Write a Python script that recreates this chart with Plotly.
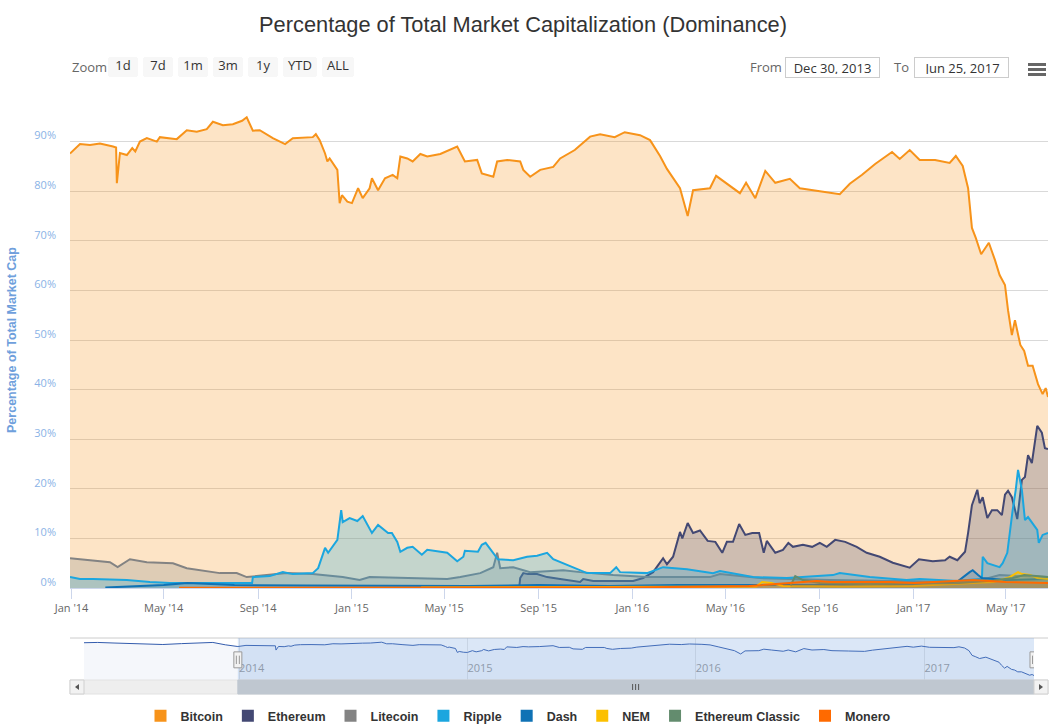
import plotly.graph_objects as go

# ---------------- data (percent of total market cap) ----------------
btc_dates = ['2013-12-30','2014-01-12','2014-01-25','2014-02-07','2014-02-24','2014-02-28','2014-03-01','2014-03-05',
             '2014-03-14','2014-03-21','2014-03-25','2014-03-31','2014-04-09','2014-04-22','2014-04-26','2014-05-18',
             '2014-05-31','2014-06-13','2014-06-26','2014-07-04','2014-07-17','2014-07-30','2014-08-11','2014-08-17',
             '2014-08-25','2014-09-03','2014-09-20','2014-10-06','2014-10-16','2014-11-11','2014-11-15','2014-11-20',
             '2014-11-27','2014-11-30','2014-12-03','2014-12-13','2014-12-16','2014-12-19','2014-12-26','2015-01-01',
             '2015-01-09','2015-01-15','2015-01-24','2015-01-27','2015-02-04','2015-02-13','2015-02-23','2015-03-01',
             '2015-03-05','2015-03-14','2015-03-21','2015-03-31','2015-04-09','2015-04-26','2015-05-18','2015-05-28',
             '2015-06-13','2015-06-19','2015-07-04','2015-07-09','2015-07-22','2015-08-08','2015-08-12','2015-08-21',
             '2015-09-03','2015-09-20','2015-09-29','2015-10-18','2015-11-07','2015-11-20','2015-12-09','2015-12-22',
             '2016-01-11','2016-01-24','2016-02-06','2016-02-15','2016-03-03','2016-03-13','2016-03-20','2016-04-11',
             '2016-04-19','2016-05-01','2016-05-20','2016-05-28','2016-06-09','2016-06-22','2016-07-05','2016-07-24',
             '2016-08-06','2016-09-01','2016-09-27','2016-10-10','2016-10-26','2016-11-12','2016-11-25','2016-12-04',
             '2016-12-14','2016-12-27','2017-01-09','2017-01-29','2017-02-17','2017-02-25','2017-03-06','2017-03-13',
             '2017-03-18','2017-03-23','2017-03-30','2017-04-09','2017-04-17','2017-04-23','2017-04-30','2017-05-04',
             '2017-05-09','2017-05-13','2017-05-20','2017-05-25','2017-05-30','2017-06-05','2017-06-12','2017-06-18',
             '2017-06-22','2017-06-25']
btc_values = [87.6, 89.5, 89.3, 89.6, 89.0, 88.8, 81.6, 87.7,
              87.3, 88.7, 88.0, 90.0, 90.7, 90.0, 90.9, 90.5,
              92.3, 92.0, 92.5, 94.0, 93.3, 93.5, 94.2, 94.9,
              92.2, 92.3, 90.7, 89.5, 90.7, 90.9, 91.5, 90.3,
              87.6, 86.0, 86.6, 84.3, 77.6, 79.2, 77.9, 77.6,
              80.6, 78.6, 80.6, 82.6, 80.2, 82.6, 83.3, 82.6,
              87.0, 86.6, 86.0, 87.5, 87.0, 87.5, 89.0, 86.0,
              86.3, 83.6, 82.9, 86.0, 86.3, 86.0, 84.3, 82.9,
              84.3, 84.9, 86.6, 88.3, 91.0, 91.5, 90.9, 91.9,
              91.3, 90.3, 87.1, 84.5, 80.6, 75.0, 80.2, 80.6,
              83.1, 81.7, 79.6, 81.7, 78.6, 84.1, 81.7, 82.5,
              80.6, 80.0, 79.4, 81.5, 83.3, 85.5, 86.9, 87.9,
              86.5, 88.3, 86.3, 86.3, 85.7, 87.1, 85.1, 80.6,
              72.6, 70.6, 67.3, 69.6, 66.1, 63.1, 61.1, 56.0,
              51.0, 54.0, 49.0, 47.8, 44.8, 44.8, 41.1, 39.1,
              40.3, 38.5]

# Bitcoin before the selected range (only shown in the navigator)
btc_2013_dates = ['2013-04-28','2013-05-20','2013-06-15','2013-07-10','2013-08-05','2013-09-01',
                  '2013-10-01','2013-11-01','2013-11-20','2013-12-10','2013-12-28']
btc_2013_values = [94.0, 94.5, 93.5, 92.5, 91.5, 91.0, 92.5, 93.5, 94.5, 90.5, 88.0]

eth_dates = ['2015-08-07','2015-08-08','2015-08-12','2015-08-18','2015-08-30','2015-09-12','2015-09-29','2015-10-25',
             '2015-10-29','2015-11-11','2015-12-07','2016-01-02','2016-01-15','2016-01-28','2016-02-10','2016-02-15',
             '2016-02-23','2016-03-03','2016-03-06','2016-03-13','2016-03-20','2016-03-29','2016-04-08','2016-04-18',
             '2016-04-27','2016-05-03','2016-05-11','2016-05-19','2016-05-27','2016-06-05','2016-06-14','2016-06-20',
             '2016-06-24','2016-07-05','2016-07-15','2016-07-22','2016-07-28','2016-08-10','2016-08-22','2016-09-01',
             '2016-09-10','2016-09-21','2016-10-04','2016-10-19','2016-11-01','2016-11-18','2016-12-05','2016-12-18',
             '2016-12-27','2017-01-08','2017-01-26','2017-02-11','2017-02-17','2017-02-27','2017-03-09','2017-03-13',
             '2017-03-18','2017-03-25','2017-03-28','2017-04-01','2017-04-07','2017-04-13','2017-04-20','2017-04-26',
             '2017-04-30','2017-05-04','2017-05-09','2017-05-16','2017-05-22','2017-05-26','2017-05-30','2017-06-04',
             '2017-06-11','2017-06-17','2017-06-21','2017-06-25']
eth_values = [0.5, 2.0, 3.0, 2.8, 2.8, 2.2, 1.8, 1.2,
              1.8, 1.4, 1.4, 1.4, 2.0, 3.2, 6.0, 4.8,
              6.3, 11.3, 10.0, 13.1, 11.1, 11.6, 9.5, 9.3,
              7.1, 9.3, 9.3, 12.9, 10.7, 11.1, 11.1, 7.1,
              9.5, 7.1, 7.7, 9.1, 8.3, 8.7, 8.3, 9.1,
              8.3, 9.7, 9.3, 8.3, 7.1, 6.3, 5.1, 4.6,
              4.1, 5.8, 5.4, 5.6, 6.3, 5.6, 7.3, 11.1,
              16.7, 19.8, 17.1, 18.3, 14.1, 15.7, 15.7, 14.7,
              18.8, 19.6, 18.3, 13.9, 21.8, 22.4, 26.8, 25.2,
              32.7, 31.3, 28.2, 28.0]

ltc_dates = ['2013-12-30','2014-01-21','2014-02-20','2014-03-02','2014-03-18','2014-04-09','2014-05-13','2014-05-31',
             '2014-06-26','2014-07-13','2014-08-04','2014-08-17','2014-09-12','2014-10-08','2014-11-11','2014-12-20',
             '2015-01-11','2015-01-24','2015-05-05','2015-05-22','2015-06-17','2015-07-04','2015-07-09','2015-07-13',
             '2015-07-30','2015-08-21','2015-10-03','2015-10-25','2015-12-07','2016-01-20','2016-04-11','2016-04-24',
             '2016-06-15','2016-09-14','2016-12-14','2017-03-02','2017-04-04','2017-04-23','2017-05-20','2017-06-25']
ltc_values = [6.0, 5.6, 5.2, 4.2, 5.8, 5.2, 5.0, 4.0,
              3.4, 3.0, 3.0, 2.2, 2.6, 3.0, 2.8, 2.2,
              1.6, 2.2, 1.8, 2.2, 3.0, 4.2, 7.1, 4.0,
              4.2, 3.2, 3.6, 3.2, 2.6, 2.2, 2.2, 2.8,
              2.0, 1.6, 1.4, 1.2, 1.8, 2.6, 2.4, 2.2]

xrp_dates = ['2013-12-30','2014-01-12','2014-01-29','2014-03-14','2014-04-13','2014-05-09','2014-06-08','2014-07-13',
             '2014-08-24','2014-08-25','2014-09-16','2014-10-03','2014-10-16','2014-11-11','2014-11-18','2014-11-27',
             '2014-12-01','2014-12-13','2014-12-18','2014-12-20','2014-12-29','2015-01-08','2015-01-15','2015-01-27',
             '2015-02-04','2015-02-17','2015-02-22','2015-03-01','2015-03-05','2015-03-14','2015-03-21','2015-04-02',
             '2015-04-09','2015-05-05','2015-05-18','2015-05-26','2015-05-28','2015-06-14','2015-06-19','2015-06-24',
             '2015-07-04','2015-07-10','2015-07-30','2015-08-17','2015-08-30','2015-09-12','2015-09-20','2015-10-03',
             '2015-10-16','2015-11-03','2015-12-03','2015-12-11','2015-12-16','2016-01-20','2016-02-10','2016-03-12',
             '2016-04-15','2016-04-24','2016-06-06','2016-07-20','2016-09-18','2016-09-27','2016-11-05','2016-12-23',
             '2017-01-09','2017-02-27','2017-03-12','2017-03-31','2017-04-01','2017-04-07','2017-04-23','2017-04-27',
             '2017-05-03','2017-05-09','2017-05-10','2017-05-14','2017-05-17','2017-05-22','2017-05-26','2017-05-30',
             '2017-06-04','2017-06-11','2017-06-13','2017-06-18','2017-06-25']
xrp_values = [2.2, 1.8, 1.8, 1.6, 1.2, 1.0, 1.0, 1.0,
              1.0, 2.2, 2.4, 3.2, 2.8, 3.0, 4.0, 8.1,
              7.1, 9.7, 15.7, 13.3, 14.1, 13.5, 14.5, 11.1,
              12.7, 11.1, 11.1, 9.3, 7.3, 8.1, 8.3, 6.7,
              7.7, 7.1, 5.4, 6.3, 7.5, 7.3, 8.7, 9.1,
              7.1, 5.8, 5.6, 6.3, 6.5, 7.1, 5.8, 5.0,
              4.2, 3.0, 3.0, 4.2, 3.2, 3.0, 4.2, 3.8,
              3.0, 3.4, 2.2, 2.0, 2.6, 3.0, 2.2, 1.6,
              1.8, 1.4, 1.6, 1.8, 6.3, 5.0, 4.2, 5.0,
              7.1, 15.1, 15.7, 19.8, 23.8, 19.8, 13.7, 14.3,
              13.1, 11.7, 9.1, 10.7, 11.1]

dash_dates = ['2014-02-14','2014-05-01','2014-06-01','2014-08-01','2014-11-01','2015-03-01','2015-06-01','2015-09-01',
              '2015-12-01','2016-03-01','2016-06-01','2016-09-01','2016-12-01','2017-02-20','2017-02-28','2017-03-15',
              '2017-03-19','2017-03-26','2017-03-31','2017-05-01','2017-06-25']
dash_values = [0.1, 0.6, 1.0, 0.6, 0.5, 0.4, 0.4, 0.6,
               0.4, 0.6, 0.6, 0.5, 0.6, 1.2, 1.4, 3.2,
               3.6, 2.6, 2.0, 1.6, 1.8]

nem_dates = ['2015-04-01','2016-06-10','2016-06-18','2016-06-30','2016-07-15','2016-10-01','2017-01-01','2017-03-01',
             '2017-04-15','2017-05-06','2017-05-17','2017-05-22','2017-06-02','2017-06-11','2017-06-25']
nem_values = [0.1, 0.3, 1.2, 1.0, 0.4, 0.3, 0.4, 0.8,
              1.2, 2.2, 3.2, 2.8, 2.6, 2.0, 1.8]

etc_dates = ['2016-07-25','2016-07-31','2016-08-10','2016-09-01','2016-11-01','2017-01-01','2017-03-01','2017-04-15',
             '2017-05-10','2017-05-25','2017-06-10','2017-06-25']
etc_values = [0.5, 2.4, 1.6, 1.0, 0.8, 0.9, 1.0, 1.5,
              2.0, 2.6, 2.4, 2.2]

xmr_dates = ['2014-05-21','2015-01-01','2016-01-01','2016-06-01','2016-08-28','2016-09-15','2016-12-01','2017-01-01',
             '2017-03-01','2017-03-20','2017-05-01','2017-06-25']
xmr_values = [0.05, 0.1, 0.1, 0.4, 1.4, 1.2, 1.2, 1.0,
              1.4, 1.6, 1.2, 1.0]

y_ticks = [0, 10, 20, 30, 40, 50, 60, 70, 80, 90, 100]
y_ticktext = ['0%', '10%', '20%', '30%', '40%', '50%', '60%', '70%', '80%', '90%', '']

range_start, range_end = '2013-12-30', '2017-06-25'
nav_start = '2013-04-28'

series = [
    ('Bitcoin', btc_dates, btc_values, '#f7931a'),
    ('Ethereum', eth_dates, eth_values, '#434873'),
    ('Litecoin', ltc_dates, ltc_values, '#838383'),
    ('Ripple', xrp_dates, xrp_values, '#1ba6df'),
    ('Dash', dash_dates, dash_values, '#0f72b5'),
    ('NEM', nem_dates, nem_values, '#fcc000'),
    ('Ethereum Classic', etc_dates, etc_values, '#638c6e'),
    ('Monero', xmr_dates, xmr_values, '#ff6a00'),
]

# ---------------- layout geometry ----------------
W, H = 1064, 728
ML, MR, MT, MB = 70, 16, 92, 48
PW, PH = W - ML - MR, H - MT - MB


def px_x(px):
    return (px - ML) / PW


def px_y(py):
    return (H - MB - py) / PH


def rgba(hex_color, a):
    h = hex_color.lstrip('#')
    r, g, b = int(h[0:2], 16), int(h[2:4], 16), int(h[4:6], 16)
    return f'rgba({r},{g},{b},{a})'


FONT = 'Open Sans, DejaVu Sans, sans-serif'
BOLD = 'Liberation Sans, Arial, sans-serif'

fig = go.Figure()

for name, d, v, c in series:
    fig.add_trace(go.Scatter(
        x=d, y=v, name=name, mode='lines', line=dict(color=c, width=2),
        fill='tozeroy', fillcolor=rgba(c, 0.25), legendgroup=name, showlegend=False,
        hovertemplate='%{x|%b %d, %Y}<br>' + name + ': %{y:.2f}%<extra></extra>'))

for name, d, v, c in series:
    fig.add_trace(go.Scatter(
        x=[None], y=[None], name=name, mode='markers', legendgroup=name, showlegend=True,
        marker=dict(symbol='square', size=12, color=c)))

# navigator series
fig.add_trace(go.Scatter(
    x=btc_2013_dates + btc_dates, y=btc_2013_values + btc_values, mode='lines',
    line=dict(color='#335cad', width=1), fill='tozeroy', fillcolor='rgba(51,92,173,0.05)',
    xaxis='x2', yaxis='y2', showlegend=False, hoverinfo='skip'))

shapes = []
# navigator outline / mask / handles
shapes.append(dict(type='line', xref='paper', yref='paper', x0=0, x1=1, y0=px_y(638), y1=px_y(638),
                   line=dict(color='#cccccc', width=1)))
shapes.append(dict(type='rect', xref='x2', yref='y2 domain', x0=range_start, x1=range_end, y0=0, y1=1,
                   fillcolor='rgba(110,160,225,0.25)', line=dict(width=0), layer='above'))
for d in (range_start, range_end):
    shapes.append(dict(type='rect', xref='x2', yref='y2 domain', xsizemode='pixel', xanchor=d,
                       x0=-4, x1=4, y0=0.29, y1=0.67, fillcolor='#f2f2f2',
                       line=dict(color='#999999', width=1), layer='above'))
    for off in (-1.5, 1.5):
        shapes.append(dict(type='line', xref='x2', yref='y2 domain', xsizemode='pixel', xanchor=d,
                           x0=off, x1=off, y0=0.38, y1=0.58, line=dict(color='#999999', width=1)))
# scrollbar
sb0, sb1 = px_y(680), px_y(694)
shapes.append(dict(type='rect', xref='paper', yref='paper', x0=0, x1=1, y0=sb1, y1=sb0,
                   fillcolor='#eeeeee', line=dict(color='#e2e2e2', width=1)))
shapes.append(dict(type='rect', xref='x2', yref='paper', x0=range_start, x1=range_end, y0=sb1, y1=sb0,
                   fillcolor='#bfc7d0', line=dict(color='#bfc7d0', width=1)))
shapes.append(dict(type='rect', xref='paper', yref='paper', x0=0, x1=px_x(84), y0=sb1, y1=sb0,
                   fillcolor='#f2f2f2', line=dict(color='#d0d0d0', width=1)))
shapes.append(dict(type='rect', xref='paper', yref='paper', x0=px_x(1034), x1=1, y0=sb1, y1=sb0,
                   fillcolor='#f2f2f2', line=dict(color='#d0d0d0', width=1)))
shapes.append(dict(type='path', xref='paper', yref='paper',
                   path=f'M {px_x(79)} {px_y(684)} L {px_x(79)} {px_y(690)} L {px_x(75)} {px_y(687)} Z',
                   fillcolor='#555555', line=dict(width=0)))
shapes.append(dict(type='path', xref='paper', yref='paper',
                   path=f'M {px_x(1039)} {px_y(684)} L {px_x(1039)} {px_y(690)} L {px_x(1043)} {px_y(687)} Z',
                   fillcolor='#555555', line=dict(width=0)))
for off in (-3, 0, 3):
    shapes.append(dict(type='line', xref='x2', yref='paper', xsizemode='pixel', xanchor='2015-09-27',
                       x0=off, x1=off, y0=px_y(684), y1=px_y(690), line=dict(color='#555555', width=1)))
# export (hamburger) icon
for yy in (63, 68, 73):
    shapes.append(dict(type='rect', xref='paper', yref='paper', x0=px_x(1028), x1=px_x(1046),
                       y0=px_y(yy + 3), y1=px_y(yy), fillcolor='#666666', line=dict(width=0)))

annotations = [
    dict(text='Zoom', x=px_x(70), y=px_y(67), xanchor='left', yanchor='middle'),
    dict(text='From', x=px_x(748), y=px_y(67), xanchor='left', yanchor='middle'),
    dict(text='To', x=px_x(892), y=px_y(67), xanchor='left', yanchor='middle'),
]
for a in annotations:
    a.update(xref='paper', yref='paper', showarrow=False, font=dict(family=FONT, size=13, color='#666666'))
for txt, cx in (('Dec 30, 2013', 832.5), ('Jun 25, 2017', 961)):
    annotations.append(dict(text=txt, x=px_x(cx), y=px_y(67.5), xref='paper', yref='paper', xanchor='center',
                            yanchor='middle', showarrow=False, width=87, height=13, borderpad=3,
                            bordercolor='#cccccc', borderwidth=1, bgcolor='white',
                            font=dict(family=FONT, size=13, color='#333333')))

fig.update_layout(
    width=W, height=H, margin=dict(l=ML, r=MR, t=MT, b=MB, autoexpand=False),
    paper_bgcolor='white', plot_bgcolor='white',
    title=dict(text='Percentage of Total Market Capitalization (Dominance)', x=523 / W, xref='container',
               xanchor='center', y=1 - 24 / H, yref='container', yanchor='middle',
               font=dict(family=BOLD, size=21.8, color='#333333')),
    xaxis=dict(type='date', range=[range_start, range_end], domain=[0, 1], anchor='y',
               tickformat="%b '%y", tick0='2014-01-01', dtick='M4',
               ticks='outside', ticklen=10, tickcolor='#ccd6eb', showline=True, linecolor='#ccd6eb',
               showgrid=False, zeroline=False, tickfont=dict(family=FONT, size=11, color='#666666'),
               rangeselector=dict(
                   buttons=[dict(count=1, label='1d', step='day', stepmode='backward'),
                            dict(count=7, label='7d', step='day', stepmode='backward'),
                            dict(count=1, label='1m', step='month', stepmode='backward'),
                            dict(count=3, label='3m', step='month', stepmode='backward'),
                            dict(count=1, label='1y', step='year', stepmode='backward'),
                            dict(count=1, label='YTD', step='year', stepmode='todate'),
                            dict(label='ALL', step='all')],
                   x=px_x(108), xanchor='left', y=px_y(57), yanchor='top',
                   bgcolor='#f7f7f7', activecolor='#f7f7f7', bordercolor='#f7f7f7', borderwidth=0,
                   font=dict(family=FONT, size=13, color='#333333'))),
    yaxis=dict(range=[0, 100], domain=[px_y(588), 1], anchor='x', tickvals=y_ticks, ticktext=y_ticktext,
               showgrid=True, gridcolor='#d9d9d9', gridwidth=1, zeroline=False, showline=False, ticks='',
               tickfont=dict(family=FONT, size=11, color='#8ab3e6'), ticklabelshift=-6, ticklabelstandoff=13,
               automargin=False,
               title=dict(text='Percentage of Total Market Cap', standoff=14,
                          font=dict(family=BOLD, size=12.5, color='#6f9fdc', weight='bold'))),
    xaxis2=dict(type='date', range=[nav_start, range_end], domain=[px_x(84), px_x(1034)], anchor='y2',
                tickformat='%Y', tick0='2014-01-01', dtick='M12', ticks='', showgrid=True, gridcolor='#e6e6e6',
                showline=False, zeroline=False, ticklabelposition='inside right',
                tickfont=dict(family=FONT, size=11, color='#999999'), fixedrange=True),
    yaxis2=dict(range=[31, 102], domain=[0, px_y(638)], anchor='x2', visible=False, fixedrange=True),
    legend=dict(orientation='h', x=518 / W, xref='container', xanchor='center', y=1 - 716 / H, yref='container',
                yanchor='middle', font=dict(family=BOLD, size=12.5, color='#333333', weight='bold'),
                itemwidth=30, bgcolor='rgba(0,0,0,0)'),
    shapes=shapes, annotations=annotations, hovermode='closest',
)

fig.write_html('out.html', config={'displayModeBar': False},
               post_script="document.body.style.margin='0';document.body.style.padding='0';"
                           "document.body.style.overflow='hidden';")
